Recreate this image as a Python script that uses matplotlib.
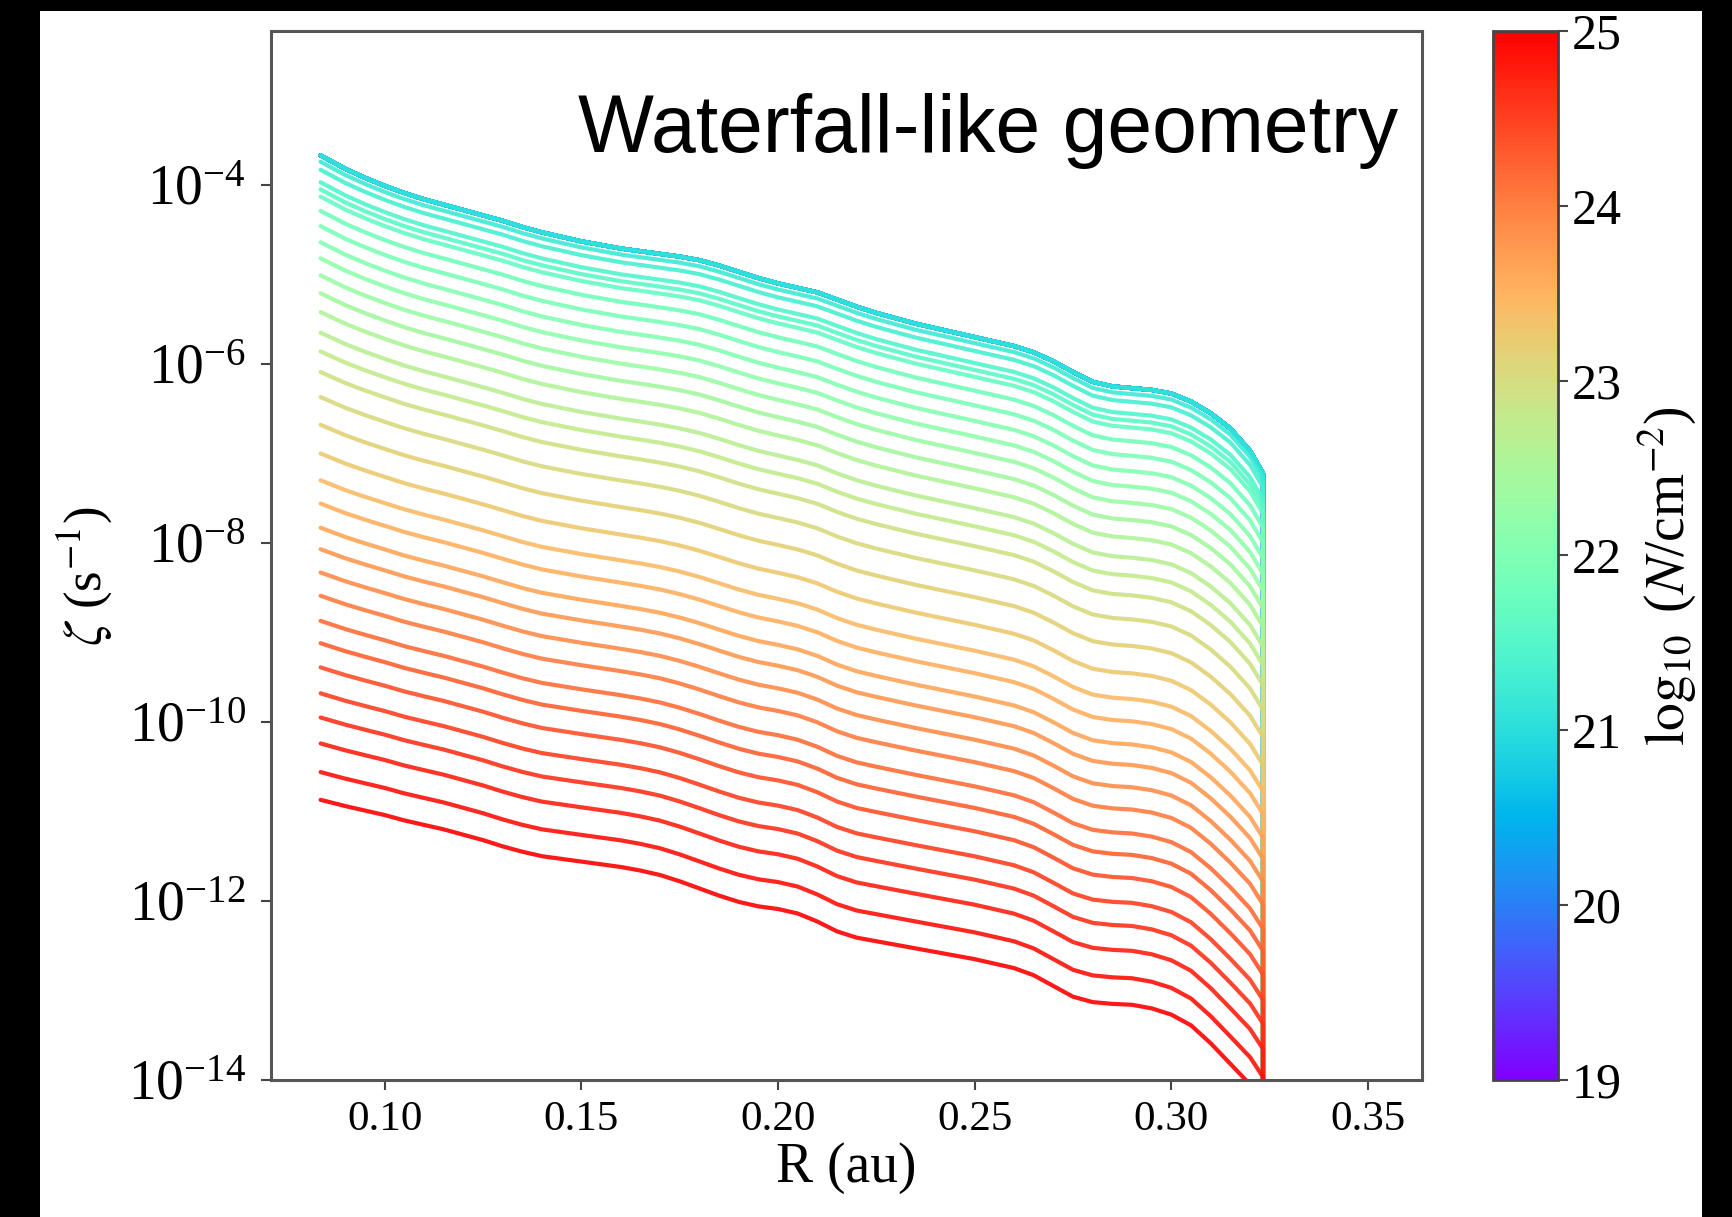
import numpy as np
import matplotlib.pyplot as plt
from matplotlib.patches import Rectangle
import matplotlib as mpl

plt.rcParams["font.family"] = "serif"
plt.rcParams["font.serif"] = ["Liberation Serif", "DejaVu Serif"]
plt.rcParams["mathtext.fontset"] = "stix"

# ------------------------------
# Datos
# ------------------------------

# log10(N) de cada curva
logN = np.linspace(19, 25, 50)

# log10(zeta) de cada curva en el borde izquierdo (R = 0.084 au)
zeta_left = [
    -3.67, -3.67, -3.67, -3.67, -3.67, -3.67, -3.67, -3.67, -3.67, -3.67,
    -3.67, -3.67, -3.67, -3.67, -3.67, -3.67, -3.67, -3.67, -3.74, -3.83,
    -3.97, -4.05, -4.13, -4.29, -4.46, -4.64, -4.82, -5.01, -5.21, -5.42,
    -5.65, -5.86, -6.09, -6.37, -6.68, -7.00, -7.30, -7.56, -7.83, -8.07,
    -8.33, -8.59, -8.87, -9.12, -9.39, -9.68, -9.95, -10.24, -10.56, -10.87,
]

# radios donde se leyo el perfil
R_prof = [0.0837, 0.090, 0.095, 0.100, 0.105, 0.110, 0.115, 0.120,
          0.125, 0.130, 0.135, 0.140, 0.145, 0.150, 0.155, 0.160,
          0.165, 0.170, 0.175, 0.180, 0.185, 0.190, 0.195, 0.200,
          0.205, 0.210, 0.215, 0.220, 0.225, 0.230, 0.235, 0.240,
          0.245, 0.250, 0.255, 0.260, 0.265, 0.270, 0.275, 0.280,
          0.285, 0.290, 0.295, 0.300, 0.305, 0.310, 0.315, 0.320,
          0.3233]

# caida (decadas) de la curva superior y de la inferior respecto al borde izq.
drop_top = [0.00, 0.15, 0.25, 0.34, 0.42, 0.49, 0.55, 0.61,
            0.67, 0.73, 0.80, 0.86, 0.91, 0.96, 1.00, 1.04,
            1.07, 1.10, 1.13, 1.17, 1.23, 1.30, 1.37, 1.43,
            1.48, 1.53, 1.61, 1.69, 1.76, 1.82, 1.88, 1.93,
            1.98, 2.03, 2.08, 2.13, 2.20, 2.30, 2.42, 2.53,
            2.58, 2.60, 2.62, 2.66, 2.75, 2.88, 3.05, 3.30,
            3.55]
drop_bottom = [0.00, 0.07, 0.12, 0.17, 0.23, 0.28, 0.33, 0.39,
               0.45, 0.52, 0.58, 0.63, 0.66, 0.69, 0.72, 0.75,
               0.79, 0.84, 0.91, 0.99, 1.07, 1.14, 1.19, 1.22,
               1.27, 1.36, 1.47, 1.54, 1.58, 1.62, 1.66, 1.70,
               1.74, 1.78, 1.83, 1.88, 1.96, 2.08, 2.20, 2.26,
               2.28, 2.29, 2.33, 2.40, 2.52, 2.72, 2.95, 3.18,
               3.40]

R_edge = 0.3233

# ------------------------------
# Figura
# ------------------------------

fig = plt.figure(figsize=(17.33, 12.17), dpi=100, facecolor="black")
fig.patches.append(Rectangle((40 / 1733, 0), (1702 - 40) / 1733, 1 - 11 / 1217,
                             transform=fig.transFigure, facecolor="white",
                             edgecolor="none", zorder=-5))

ax = fig.add_axes([0.1564, 0.1126, 0.6641, 0.8619])
cax = fig.add_axes([0.8615, 0.1126, 0.0375, 0.8619])

cmap = plt.get_cmap("rainbow")
norm = mpl.colors.Normalize(vmin=19, vmax=25)

top, bot = max(zeta_left), min(zeta_left)
R_line = np.array(R_prof + [R_edge])
d_top = np.array(drop_top)
d_bot = np.array(drop_bottom)
for n, z0 in zip(logN, zeta_left):
    w = (z0 - bot) / (top - bot)
    logz = z0 - (w * d_top + (1 - w) * d_bot)
    logz = np.append(logz, -20.0)
    ax.plot(R_line, 10 ** logz, color=cmap(norm(n)), lw=3.0, alpha=0.9,
            solid_capstyle="round", solid_joinstyle="round")

ax.set_yscale("log")
ax.set_xlim(0.0711, 0.3637)
ax.set_ylim(1e-14, 10 ** -2.28)
ax.set_yticks([1e-14, 1e-12, 1e-10, 1e-8, 1e-6, 1e-4])
ax.yaxis.set_minor_locator(mpl.ticker.NullLocator())
ax.set_xticks([0.10, 0.15, 0.20, 0.25, 0.30, 0.35])
ax.set_xticklabels(["0.10", "0.15", "0.20", "0.25", "0.30", "0.35"])
ax.tick_params(axis="x", labelsize=31, length=7, width=1.5, color="#444444", pad=8)
ax.tick_params(axis="y", labelsize=40, length=7, width=1.5, color="#444444", pad=11)

for s in ax.spines.values():
    s.set_color("#555555")
    s.set_linewidth(2.2)

ax.set_xlabel("R (au)", fontsize=40, labelpad=2)
ax.set_ylabel(r"$\zeta$ (s$^{-1}$)", fontsize=38, labelpad=10)
ax.yaxis.label.set_y(0.48)

ax.text(0.979, 0.885, "Waterfall-like geometry", transform=ax.transAxes,
        ha="right", va="baseline", fontsize=58, family="Liberation Sans",
        color="black")

sm = mpl.cm.ScalarMappable(norm=norm, cmap=cmap)
cb = fig.colorbar(sm, cax=cax)
cb.set_ticks([19, 20, 21, 22, 23, 24, 25])
cb.ax.tick_params(labelsize=36, length=7, width=1.5, color="#444444", pad=3)
cb.outline.set_edgecolor("#444444")
cb.outline.set_linewidth(2)
cb.set_label(r"$\log_{10}$ ($N$/cm$^{-2}$)", fontsize=40, labelpad=10)
cb.ax.yaxis.label.set_y(0.48)

fig.savefig("out.png", dpi=100, facecolor=fig.get_facecolor())
